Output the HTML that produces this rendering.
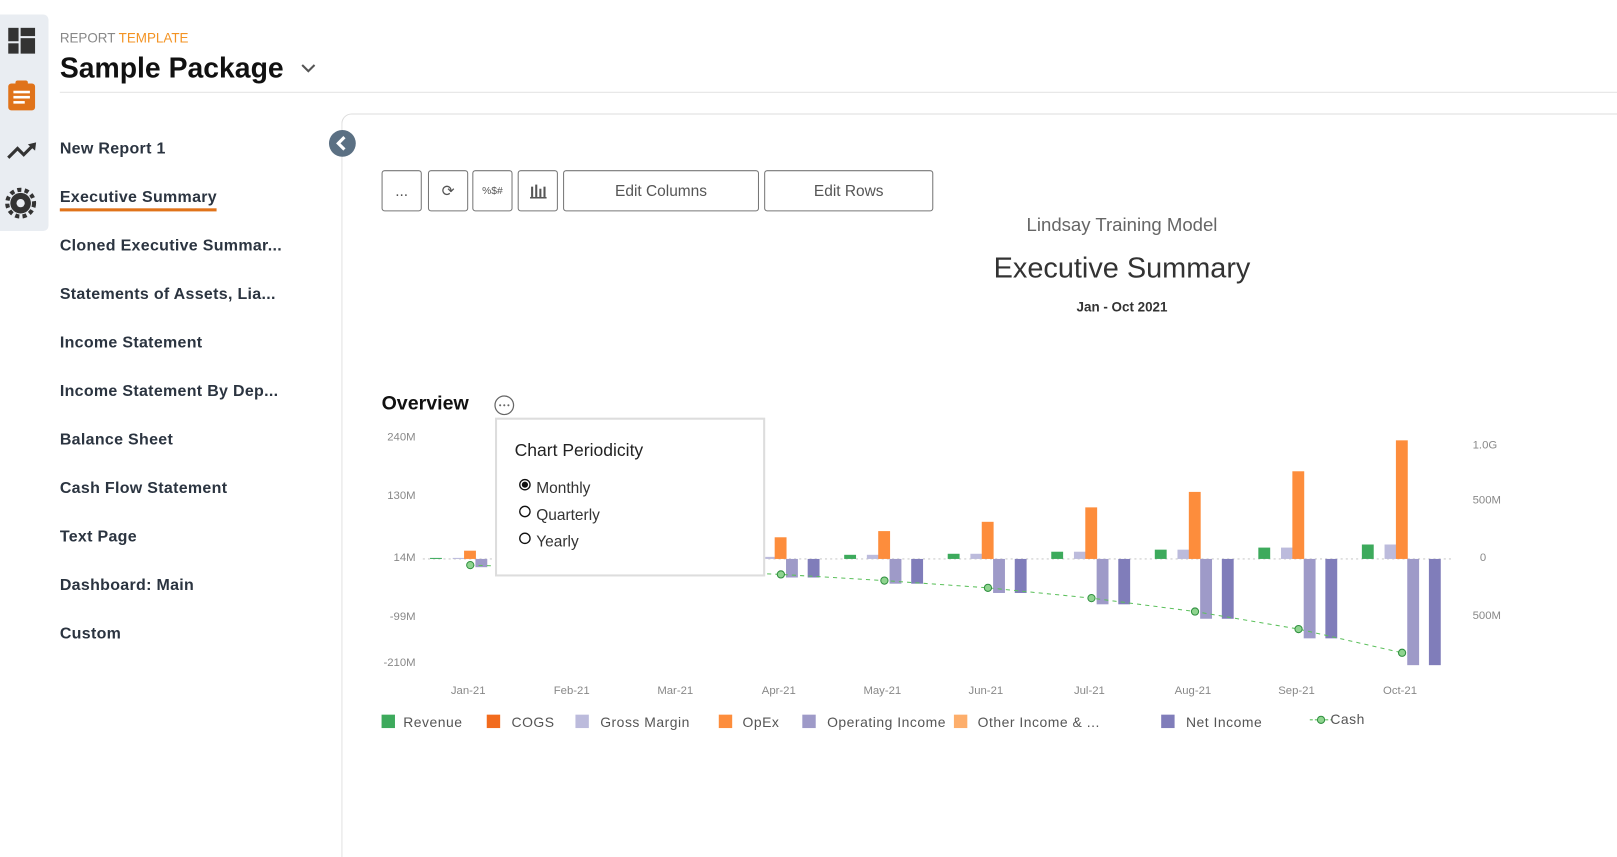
<!DOCTYPE html>
<html><head><meta charset="utf-8"><style>
body{margin:0;width:1617px;height:807px;overflow:hidden;background:#fff;font-family:"Liberation Sans",sans-serif;position:relative}
#w{position:absolute;left:0;top:0;width:1568px;height:783px;transform:scale(1.03125);transform-origin:0 0}
.a{position:absolute}
.nav{position:absolute;left:58px;font-size:15.5px;font-weight:bold;color:#2b3440;letter-spacing:0.3px}
.btn{position:absolute;top:165px;height:40px;border:1px solid #777;border-radius:3px;box-sizing:border-box;font-size:15px;color:#555;display:flex;align-items:center;justify-content:center}
.lg{position:absolute;top:693px;width:13px;height:13px}
.lt{position:absolute;top:693px;font-size:13.5px;color:#555;letter-spacing:0.5px}
</style></head><body><div id="w">
<div class="a" style="left:0;top:14px;width:47px;height:210px;background:#e9edf2;border-radius:0 5px 5px 0"></div>
<svg class="a" style="left:0;top:0" width="48" height="230">
<rect x="8" y="27" width="10" height="13" fill="#333"/><rect x="20" y="27" width="14" height="8" fill="#333"/><rect x="8" y="42" width="10" height="10" fill="#333"/><rect x="20" y="37" width="14" height="15" fill="#333"/>
<rect x="8" y="81" width="26" height="26" rx="3" fill="#e0731a"/><rect x="15" y="78" width="12" height="6" rx="2" fill="#e0731a"/><rect x="13" y="88" width="16" height="2.5" fill="#fff"/><rect x="13" y="93" width="16" height="2.5" fill="#fff"/><rect x="13" y="98" width="11" height="2.5" fill="#fff"/>
<polyline points="8,153 17,144 23,150 33,140" fill="none" stroke="#333" stroke-width="3"/><polygon points="27,140 35,138 34,146" fill="#333"/>
<circle cx="20" cy="197" r="10" fill="#333"/><circle cx="20" cy="197" r="13" fill="none" stroke="#333" stroke-width="4" stroke-dasharray="4 3.2"/><circle cx="20" cy="197" r="4" fill="#e9edf2"/>
</svg>
<div class="a" style="left:58px;top:29px;font-size:13px;color:#888">REPORT <span style="color:#f39323">TEMPLATE</span></div>
<div class="a" style="left:58px;top:50px;font-size:27.5px;font-weight:bold;color:#111">Sample Package</div>
<svg class="a" style="left:290px;top:60px" width="20" height="14"><polyline points="3,3 9,9 15,3" fill="none" stroke="#555" stroke-width="2"/></svg>
<div class="a" style="left:58px;top:89px;width:1559px;height:1px;background:#e3e3e3"></div>
<div class="nav" style="top:136px">New Report 1</div>
<div class="nav" style="top:183px">Executive Summary</div>
<div class="a" style="left:58px;top:202px;width:152px;height:3px;background:#e0731a"></div>
<div class="nav" style="top:230px">Cloned Executive Summar...</div>
<div class="nav" style="top:277px">Statements of Assets, Lia...</div>
<div class="nav" style="top:324px">Income Statement</div>
<div class="nav" style="top:371px">Income Statement By Dep...</div>
<div class="nav" style="top:418px">Balance Sheet</div>
<div class="nav" style="top:465px">Cash Flow Statement</div>
<div class="nav" style="top:512px">Text Page</div>
<div class="nav" style="top:559px">Dashboard: Main</div>
<div class="nav" style="top:606px">Custom</div>
<div class="a" style="left:331px;top:110px;width:1300px;height:720px;border-left:1px solid #ddd;border-top:1px solid #ddd;border-top-left-radius:10px"></div>
<svg class="a" style="left:318px;top:125px" width="28" height="28"><circle cx="14" cy="14" r="13" fill="#5b7083"/><polyline points="16,8 10,14 16,20" fill="none" stroke="#fff" stroke-width="3"/></svg>
<div class="btn" style="left:370px;width:39px">...</div>
<div class="btn" style="left:415px;width:39px">⟳</div>
<div class="btn" style="left:458px;width:39px;font-size:10px">%$#</div>
<div class="btn" style="left:502px;width:39px"><svg width="18" height="16"><rect x="2" y="4" width="2" height="10" fill="#555"/><rect x="6" y="2" width="2" height="12" fill="#555"/><rect x="10" y="6" width="2" height="8" fill="#555"/><rect x="14" y="4" width="2" height="10" fill="#555"/><rect x="1" y="14" width="16" height="1.5" fill="#555"/></svg></div>
<div class="btn" style="left:546px;width:190px">Edit Columns</div>
<div class="btn" style="left:741px;width:164px">Edit Rows</div>
<div class="a" style="left:888px;top:208px;width:400px;text-align:center;font-size:18px;color:#666">Lindsay Training Model</div>
<div class="a" style="left:888px;top:244px;width:400px;text-align:center;font-size:28px;color:#333">Executive Summary</div>
<div class="a" style="left:888px;top:290px;width:400px;text-align:center;font-size:13px;font-weight:bold;color:#333">Jan - Oct 2021</div>
<div class="a" style="left:370px;top:381px;font-size:19px;font-weight:bold;color:#111">Overview</div>
<svg class="a" style="left:478px;top:382px" width="22" height="22"><circle cx="11" cy="11" r="9" fill="none" stroke="#666" stroke-width="1.2"/><circle cx="7" cy="11" r="1" fill="#666"/><circle cx="11" cy="11" r="1" fill="#666"/><circle cx="15" cy="11" r="1" fill="#666"/></svg>
<svg class="a" style="left:0;top:0" width="1568" height="783" font-family="Liberation Sans, sans-serif">
<g font-size="11" fill="#888" text-anchor="end">
<text x="403" y="427">240M</text><text x="403" y="484">130M</text><text x="403" y="544">14M</text><text x="403" y="601">-99M</text><text x="403" y="646">-210M</text></g>
<g font-size="11" fill="#888"><text x="1428" y="435">1.0G</text><text x="1428" y="488">500M</text><text x="1435" y="544">0</text><text x="1428" y="600">500M</text></g>
<line x1="410" y1="542" x2="1410" y2="542" stroke="#ccc" stroke-dasharray="2 3"/>
<g id="bars"></g>
<g font-size="11" fill="#888" text-anchor="middle" id="xl"></g>
<polyline id="cash" fill="none" stroke="#5cc05c" stroke-width="1" stroke-dasharray="4 4"/>
<g id="dots"></g>
</svg>
<div class="a" style="left:480px;top:405px;width:258px;height:150px;border:2px solid #ddd;background:#fff"></div>
<div class="a" style="left:499px;top:427px;font-size:17px;color:#222">Chart Periodicity</div>
<svg class="a" style="left:503px;top:463px" width="14" height="70"><circle cx="6" cy="7" r="5" fill="none" stroke="#111" stroke-width="1.3"/><circle cx="6" cy="7" r="3" fill="#111"/><circle cx="6" cy="33" r="5" fill="none" stroke="#111" stroke-width="1.3"/><circle cx="6" cy="59" r="5" fill="none" stroke="#111" stroke-width="1.3"/></svg>
<div class="a" style="left:520px;top:461px;font-size:15px;color:#333;line-height:26px">Monthly<br>Quarterly<br>Yearly</div>
<div class="lg" style="left:370px;background:#3daa5c"></div><div class="lt" style="left:391px">Revenue</div>
<div class="lg" style="left:472px;background:#f26b1d"></div><div class="lt" style="left:496px">COGS</div>
<div class="lg" style="left:558px;background:#bcbbdc"></div><div class="lt" style="left:582px">Gross Margin</div>
<div class="lg" style="left:697px;background:#fd8d3c"></div><div class="lt" style="left:720px">OpEx</div>
<div class="lg" style="left:778px;background:#9e9ac8"></div><div class="lt" style="left:802px">Operating Income</div>
<div class="lg" style="left:925px;background:#fdae6b"></div><div class="lt" style="left:948px">Other Income &amp; ...</div>
<div class="lg" style="left:1126px;background:#807dba"></div><div class="lt" style="left:1150px">Net Income</div>
<svg class="a" style="left:1270px;top:692px" width="22" height="12"><line x1="0" y1="6" x2="22" y2="6" stroke="#5cc05c" stroke-dasharray="3 2"/><circle cx="11" cy="6" r="3.5" fill="#8fd48f" stroke="#2f8f3f"/></svg>
<div class="lt" style="left:1290px;top:690px">Cash</div>
</div>
<script>
var ns="http://www.w3.org/2000/svg",B=document.getElementById("bars"),X=document.getElementById("xl"),D=document.getElementById("dots");
var months=["Jan-21","Feb-21","Mar-21","Apr-21","May-21","Jun-21","Jul-21","Aug-21","Sep-21","Oct-21"];
var op=[534,530,526,521,515,506,492,477,457,427],gr=[541,540,540,540,538,537,535,533,531,528],oi=[550,552,555,560,566,575,586,600,619,645];
var cy=[548,551,553,557,563,570,580,593,610,633],pts=[];
function r(x,y1,y2,c){var e=document.createElementNS(ns,"rect");e.setAttribute("x",x);e.setAttribute("y",Math.min(y1,y2));e.setAttribute("width",11.5);e.setAttribute("height",Math.abs(y2-y1));e.setAttribute("fill",c);B.appendChild(e);}
for(var i=0;i<10;i++){var c=454+100.4*i;
r(c-37,gr[i],542,"#3daa5c");r(c-15,gr[i],542,"#bcbbdc");r(c-4,op[i],542,"#fd8d3c");r(c+7,542,oi[i],"#9e9ac8");r(c+28,542,oi[i],"#807dba");
var t=document.createElementNS(ns,"text");t.setAttribute("x",c);t.setAttribute("y",673);t.textContent=months[i];X.appendChild(t);
pts.push((c+2)+","+cy[i]);var d=document.createElementNS(ns,"circle");d.setAttribute("cx",c+2);d.setAttribute("cy",cy[i]);d.setAttribute("r",3.5);d.setAttribute("fill","#8fd48f");d.setAttribute("stroke","#2f8f3f");D.appendChild(d);}
document.getElementById("cash").setAttribute("points",pts.join(" "));
</script>
</body></html>
